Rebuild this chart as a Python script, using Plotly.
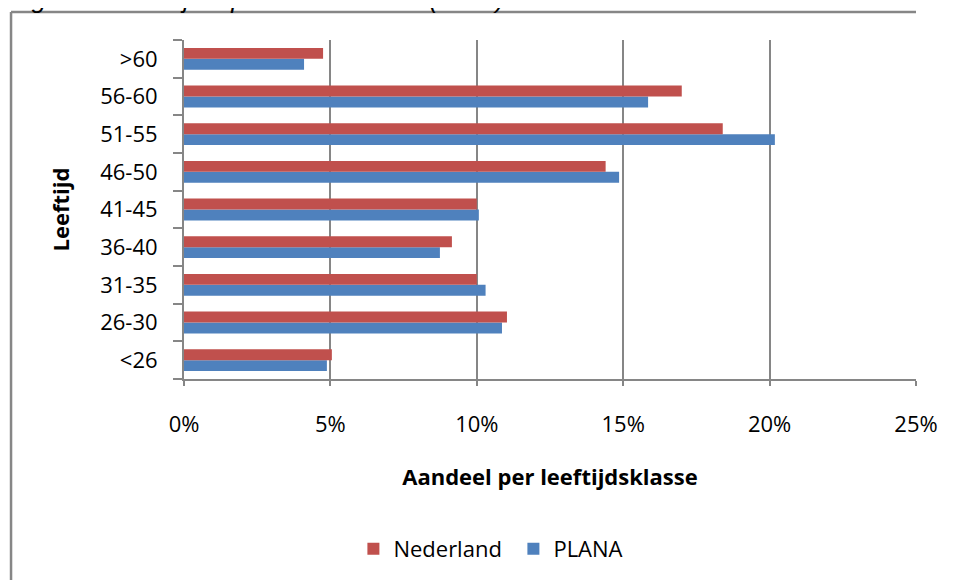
import plotly.graph_objects as go

categories = ["<26", "26-30", "31-35", "36-40", "41-45", "46-50", "51-55", "56-60", ">60"]
nederland = [0.0505, 0.1103, 0.100, 0.0915, 0.100, 0.144, 0.184, 0.170, 0.0475]
plana = [0.0488, 0.1086, 0.103, 0.0874, 0.1007, 0.1486, 0.2018, 0.1585, 0.041]
x_ticks = [0, 0.05, 0.10, 0.15, 0.20, 0.25]
x_ticklabels = ["0%", "5%", "10%", "15%", "20%", "25%"]

RED = "#C0504D"
BLUE = "#4F81BD"
GRID = "#868686"
FONT = "Open Sans"

fig = go.Figure()
fig.add_trace(go.Bar(y=categories, x=plana, name="PLANA", orientation="h",
                     marker=dict(color=BLUE, line=dict(width=0))))
fig.add_trace(go.Bar(y=categories, x=nederland, name="Nederland", orientation="h",
                     marker=dict(color=RED, line=dict(width=0))))

fig.update_layout(
    width=947, height=572,
    margin=dict(l=176, r=39, t=32, b=200),
    paper_bgcolor="white", plot_bgcolor="white",
    barmode="group", bargap=0.42, bargroupgap=0,
    font=dict(family=FONT, size=22, color="black"),
    showlegend=True,
    legend=dict(orientation="h", traceorder="reversed", x=0.45, xanchor="center",
                y=-0.497, yanchor="middle", font=dict(size=22),
                itemwidth=30, entrywidth=115, entrywidthmode="pixels"),
    xaxis=dict(range=[0, 0.25], tickvals=x_ticks, ticktext=x_ticklabels,
               showgrid=True, gridcolor=GRID, gridwidth=1.5,
               showline=True, linecolor=GRID, linewidth=1.5,
               ticks="outside", ticklen=5, tickcolor=GRID, tickwidth=1.5,
               ticklabelstandoff=20, zeroline=False,
               title=dict(text="<b>Aandeel per leeftijdsklasse</b>", standoff=32,
                          font=dict(size=22))),
    yaxis=dict(categoryorder="array", categoryarray=categories,
               showgrid=False, showline=True, linecolor=GRID, linewidth=2,
               ticks="outside", ticklen=9, tickcolor=GRID, tickwidth=1.5,
               tickson="boundaries", ticklabelstandoff=20,
               title=dict(text="<b>Leeftijd</b>", standoff=24, font=dict(size=22))),
)

# Chart border (frame partially visible)
fig.add_shape(type="line", xref="paper", yref="paper",
              x0=-0.2363, x1=1.0, y0=1.0824, y1=1.0824,
              line=dict(color=GRID, width=2.5))
fig.add_shape(type="line", xref="paper", yref="paper",
              x0=-0.2363, x1=-0.2363, y0=1.0824, y1=-0.75,
              line=dict(color=GRID, width=2.5))

# Figure caption, partly cut off at the top
fig.add_annotation(text="<i>Figuur 2: Leeftijdsopbouw docenten (2008)</i>",
                   xref="paper", yref="paper", x=-0.24, y=1.072, xanchor="left",
                   yanchor="bottom", showarrow=False,
                   font=dict(family="Liberation Sans", size=26, color="black"))

fig.write_html("out.html")
